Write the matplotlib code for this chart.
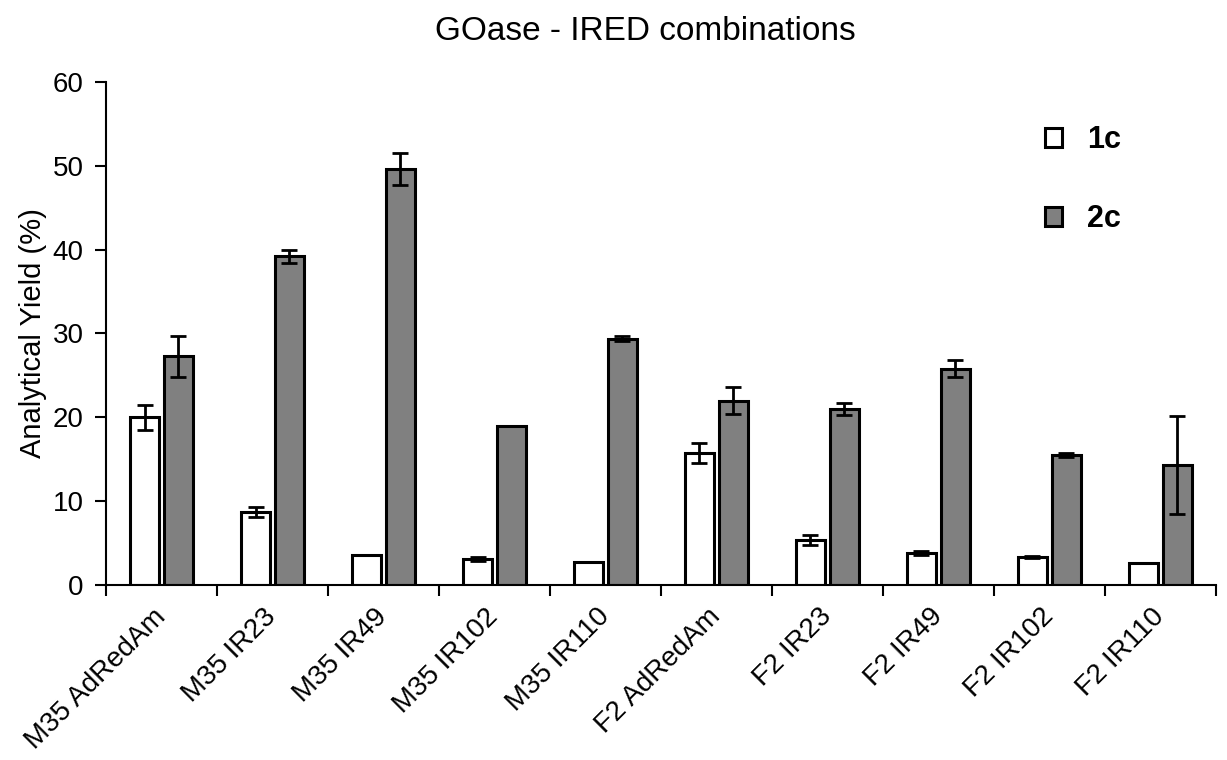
import numpy as np
import matplotlib.pyplot as plt

plt.rcParams['font.family'] = ['Liberation Sans', 'DejaVu Sans']

categories = ['M35 AdRedAm', 'M35 IR23', 'M35 IR49', 'M35 IR102', 'M35 IR110',
              'F2 AdRedAm', 'F2 IR23', 'F2 IR49', 'F2 IR102', 'F2 IR110']
yield_1c = [20.0, 8.7, 3.6, 3.1, 2.8, 15.7, 5.4, 3.8, 3.3, 2.6]
err_1c = [1.5, 0.6, 0.0, 0.2, 0.0, 1.2, 0.6, 0.2, 0.1, 0.0]
yield_2c = [27.3, 39.2, 49.6, 19.0, 29.4, 22.0, 21.0, 25.8, 15.5, 14.3]
err_2c = [2.45, 0.75, 1.9, 0.0, 0.3, 1.65, 0.75, 1.05, 0.25, 5.8]

fig = plt.figure(figsize=(12.27, 7.6), dpi=100)
ax = fig.add_axes([0.0864, 0.2303, 0.9046, 0.6618])

x = np.arange(len(categories))
w = 0.26
ekw = dict(elinewidth=2, capthick=2, capsize=6, ecolor='black')
ax.bar(x - 0.153, yield_1c, w, yerr=err_1c, color='white', edgecolor='black',
       linewidth=2.2, error_kw=ekw, label='1c')
ax.bar(x + 0.153, yield_2c, w, yerr=err_2c, color='#808080', edgecolor='black',
       linewidth=2.2, error_kw=ekw, label='2c')

ax.set_xlim(-0.5, len(categories) - 0.5)
ax.set_ylim(0, 60)
ax.set_yticks(range(0, 61, 10))
ax.tick_params(axis='y', labelsize=20, direction='out', length=8, width=1.5, pad=8)
ax.set_xticks(x)
ax.set_xticklabels(categories, rotation=45, ha='right', va='center',
                   rotation_mode='anchor', fontsize=20)
ax.tick_params(axis='x', which='major', length=0, pad=20)
ax.set_xticks(np.arange(-0.5, len(categories), 1), minor=True)
ax.tick_params(axis='x', which='minor', direction='out', length=8, width=1.5)
for s in ['top', 'right']:
    ax.spines[s].set_visible(False)
ax.spines['left'].set_linewidth(1.5)
ax.spines['bottom'].set_linewidth(1.5)

ax.set_ylabel('Analytical Yield (%)', fontsize=21, labelpad=4)
fig.text(645 / 1227, 1 - 40 / 760, 'GOase - IRED combinations', ha='center',
         va='baseline', fontsize=24)

leg = ax.legend(loc='upper left', bbox_to_anchor=(0.852, 0.835),
                bbox_transform=fig.transFigure, frameon=False, borderpad=0, borderaxespad=0,
                prop={'weight': 'bold', 'size': 22}, handlelength=0.55, handleheight=0.55,
                labelspacing=1.6, handletextpad=0.8)

fig.savefig('out.png', dpi=100)
